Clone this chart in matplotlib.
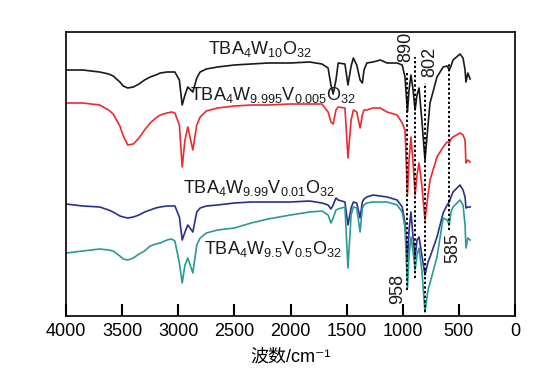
import matplotlib
matplotlib.use('Agg')

import matplotlib.pyplot as plt

plt.rcParams['font.family'] = ['Liberation Sans', 'Noto Sans CJK SC', 'DejaVu Sans']
plt.rcParams['mathtext.default'] = 'regular'

# wavenumber grid (cm-1) shared by all four spectra
wavenumber = [4000, 3850, 3700, 3620, 3580, 3520, 3490, 3450, 3400, 3350,
              3300, 3250, 3200, 3160, 3100, 3060, 3030, 2990, 2965, 2940,
              2915, 2870, 2835, 2805, 2750, 2650, 2500, 2350, 2200, 2000,
              1830, 1720, 1665, 1640, 1620, 1595, 1575, 1515, 1488, 1460,
              1440, 1410, 1380, 1360, 1345, 1320, 1265, 1200, 1140, 1050,
              1005, 980, 958, 944, 927, 910, 890, 873, 855, 830,
              802, 775, 757, 695, 640, 605, 585, 570, 552, 490,
              463, 445, 437, 420, 400]

# transmittance, arbitrary units (curves are offset)
t_w10 = [246, 246, 244, 242, 240, 234, 230, 228, 229, 232,
         236, 239, 241, 243, 244, 244, 244, 236, 211, 221,
         229, 224, 238, 244, 247, 249, 251, 252, 253, 253,
         254, 252, 248, 231, 222, 236, 253, 252, 231, 250,
         258, 251, 236, 233, 246, 253, 254, 256, 253, 253,
         251, 239, 204, 226, 241, 228, 206, 221, 228, 196,
         156, 191, 213, 239, 249, 250, 246, 250, 256, 262,
         258, 246, 234, 243, 237]

t_v0005 = [213, 213, 211, 206, 202, 190, 180, 171, 172, 178,
           186, 193, 198, 201, 203, 204, 203, 191, 149, 176,
           189, 166, 191, 199, 205, 208, 210, 211, 211, 212,
           212, 212, 204, 194, 192, 206, 209, 208, 158, 196,
           206, 204, 188, 201, 206, 206, 208, 208, 204, 201,
           193, 186, 121, 156, 179, 156, 121, 141, 153, 131,
           96, 121, 136, 159, 169, 174, 173, 177, 179, 183,
           181, 176, 153, 156, 154]

t_v001 = [112, 110, 109, 106, 104, 100, 99, 98, 99, 101,
          104, 106, 108, 109, 110, 110, 110, 99, 76, 84,
          91, 84, 104, 108, 110, 111, 113, 114, 114, 114,
          115, 113, 111, 107, 111, 118, 116, 114, 91, 108,
          114, 113, 98, 114, 117, 119, 121, 120, 119, 116,
          109, 93, 56, 86, 104, 81, 59, 76, 79, 61,
          41, 54, 59, 79, 103, 111, 114, 119, 124, 131,
          126, 119, 108, 109, 109]

t_v05 = [63, 65, 67, 66, 65, 60, 57, 56, 58, 62,
         65, 70, 72, 73, 76, 77, 75, 53, 33, 51,
         58, 43, 71, 78, 83, 86, 88, 93, 97, 101,
         104, 105, 101, 93, 98, 106, 107, 109, 48, 101,
         109, 108, 84, 108, 111, 113, 114, 114, 114, 111,
         104, 89, 28, 61, 79, 66, 46, 61, 68, 46,
         4, 26, 33, 59, 98, 96, 91, 104, 109, 116,
         111, 91, 68, 78, 76]

series = [
    (t_w10, '#1a1a1a', r'TBA$_4$W$_{10}$O$_{32}$', 2272, 267),
    (t_v0005, '#ee2a2f', r'TBA$_4$W$_{9.995}$V$_{0.005}$O$_{32}$', 2156, 221),
    (t_v001, '#2a2f8e', r'TBA$_4$W$_{9.99}$V$_{0.01}$O$_{32}$', 2281, 128),
    (t_v05, '#2a9a94', r'TBA$_4$W$_{9.5}$V$_{0.5}$O$_{32}$', 2156, 67),
]

# marked bands: wavenumber, dotted line top/bottom, label position
bands = [958, 890, 802, 585]
band_top = [244, 259, 233, 254]
band_bottom = [26, 38, 4, 86]
band_label_x = [1042, 971, 757, 552]
band_label_y = [27, 269, 254, 68]

fig = plt.figure(figsize=(5.52, 3.88), dpi=100)
ax = fig.add_axes([66 / 552, 72 / 388, 449 / 552, 284 / 388])

for t, color, label, lx, ly in series:
    ax.plot(wavenumber, t, color=color, lw=1.2)
    ax.text(lx, ly, label, color='#1a1a1a', fontsize=13,
            ha='center', va='center')

for b, top, bot, lx, ly in zip(bands, band_top, band_bottom, band_label_x, band_label_y):
    ax.plot([b, b], [bot, top], color='k', lw=1.4, ls=(0, (1.2, 1.2)))
    ax.text(lx, ly, str(b), rotation=90, fontsize=13, color='#1a1a1a',
            ha='center', va='center')

ax.set_xlim(4000, 0)
ax.set_ylim(0, 284)
ax.set_xticks(range(0, 4001, 500))
ax.set_yticks([])
ax.tick_params(axis='x', direction='in', length=9, width=1.5, labelsize=13, pad=5)
for s in ax.spines.values():
    s.set_linewidth(1.2)

ax.set_xlabel('波数/cm⁻¹', fontsize=13, labelpad=6)

plt.savefig('out.png', dpi=100)
